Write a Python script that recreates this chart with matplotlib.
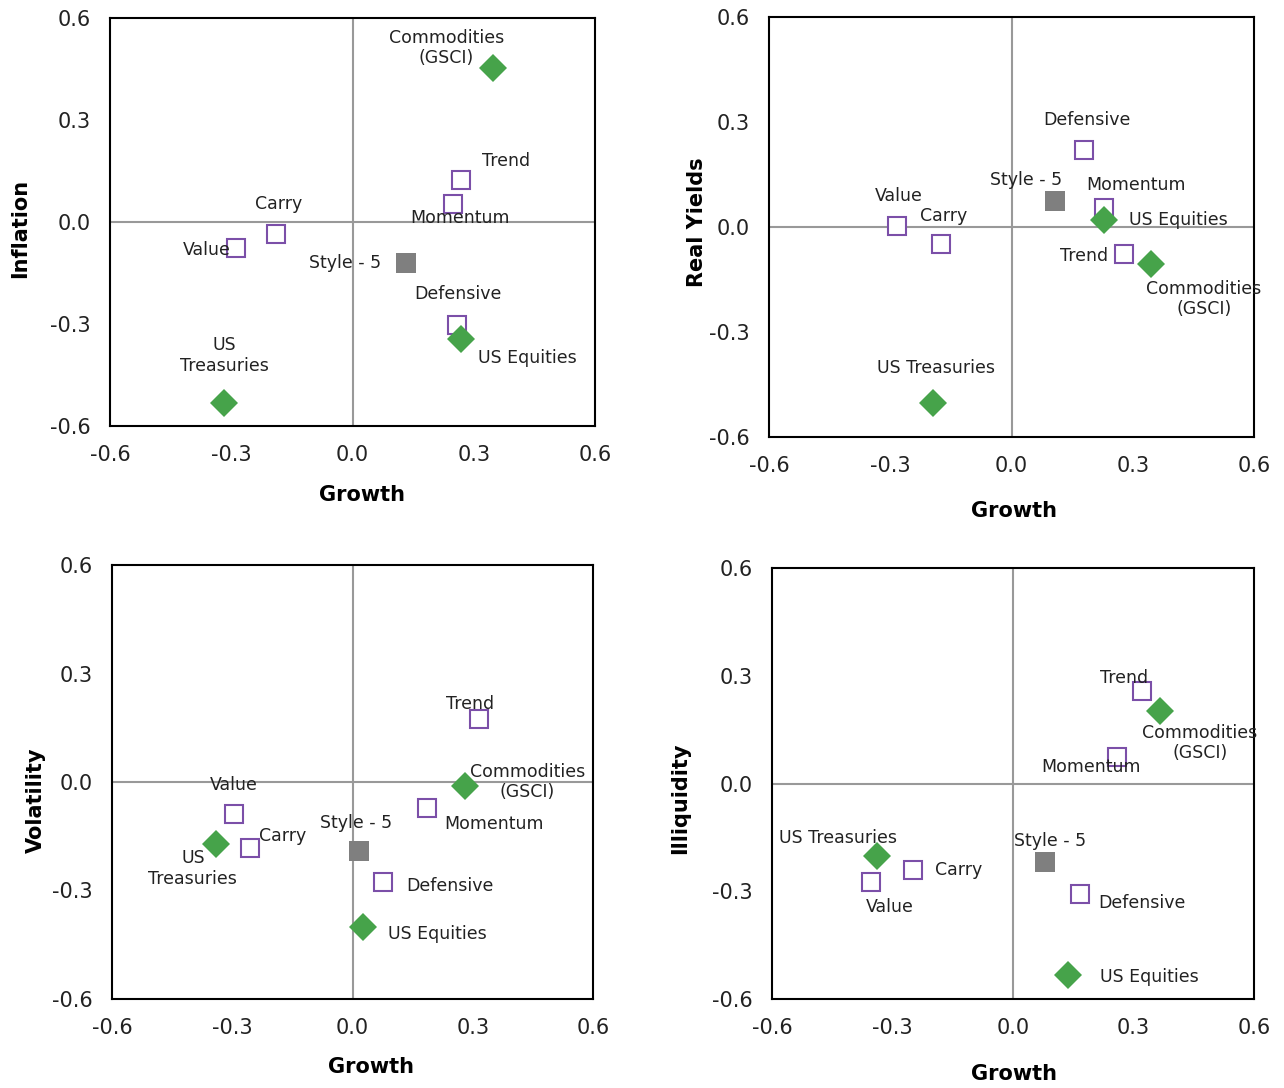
import numpy as np
import matplotlib
matplotlib.use("Agg")
import matplotlib.pyplot as plt

names = ['Value', 'Carry', 'Momentum', 'Defensive', 'Trend', 'Style - 5',
         'US Equities', 'US Treasuries', 'Commodities\n(GSCI)']
kinds = ['style'] * 5 + ['combo'] + ['asset'] * 3

ticks = [-0.6, -0.3, 0.0, 0.3, 0.6]
tick_labels = ['-0.6', '-0.3', '0.0', '0.3', '0.6']

# growth vs inflation
growth_1 = [-0.288, -0.189, 0.249, 0.259, 0.268, 0.132, 0.268, -0.318, 0.348]
inflation = [-0.076, -0.035, 0.053, -0.303, 0.124, -0.121, -0.344, -0.532, 0.453]
# growth vs real yields
growth_2 = [-0.283, -0.175, 0.228, 0.179, 0.278, 0.108, 0.228, -0.194, 0.345]
real_yields = [0.003, -0.049, 0.054, 0.22, -0.077, 0.074, 0.02, -0.503, -0.106]
# growth vs volatility
growth_3 = [-0.296, -0.256, 0.186, 0.076, 0.316, 0.016, 0.026, -0.341, 0.281]
volatility = [-0.088, -0.182, -0.072, -0.276, 0.174, -0.191, -0.401, -0.171, -0.011]
# growth vs illiquidity
growth_4 = [-0.353, -0.249, 0.259, 0.167, 0.321, 0.080, 0.137, -0.339, 0.366]
illiquidity = [-0.274, -0.241, 0.074, -0.308, 0.258, -0.219, -0.533, -0.202, 0.202]

# label offsets in pixels (text centre relative to marker)
off_1 = [(-29, -2), (3, 30), (7, -14), (1, 31), (45, 19), (-61, 0), (67, -19), (0, 47), (-47, 20)]
off_2 = [(2, 30), (3, 28), (32, 23), (3, 30), (-40, -2), (-29, 21), (75, 0), (3, 35), (53, -35)]
off_3 = [(0, 29), (33, 12), (67, -16), (67, -4), (-9, 15), (-3, 28), (74, -7), (-23, -25), (62, 4)]
off_4 = [(19, -25), (46, 0), (-26, -10), (62, -9), (-18, 13), (5, 21), (81, -2), (-39, 18), (40, -32)]

purple = '#7b4fa8'
green = '#46a34a'
grey = '#7f7f7f'
txt = '#222222'

W, H = 1284, 1088
fig = plt.figure(figsize=(W / 100, H / 100), dpi=100)

# (left, top, right, bottom) in pixels, xlabel pos, ylabel pos (axes coords), wrap treasuries label
panels = [
    ((110, 18, 595, 426), growth_1, inflation, off_1, 'Inflation', (0.52, -0.169), (-0.186, 0.485), True),
    ((769, 17, 1254, 437), growth_2, real_yields, off_2, 'Real Yields', (0.505, -0.176), (-0.148, 0.512), False),
    ((112, 565, 593, 999), growth_3, volatility, off_3, 'Volatility', (0.538, -0.157), (-0.158, 0.459), True),
    ((772, 568, 1254, 999), growth_4, illiquidity, off_4, 'Illiquidity', (0.502, -0.174), (-0.191, 0.466), False),
]

for box, xs, ys, offs, ylab, xlpos, ylpos, wrap in panels:
    l, t, r, b = box
    ax = fig.add_axes([l / W, 1 - b / H, (r - l) / W, (b - t) / H])
    ax.set_xlim(-0.6, 0.6)
    ax.set_ylim(-0.6, 0.6)
    ax.axhline(0, color='#999999', lw=1.5, zorder=1)
    ax.axvline(0, color='#999999', lw=1.5, zorder=1)
    for s in ax.spines.values():
        s.set_linewidth(1.5)
        s.set_color('black')
    ax.set_xticks(ticks)
    ax.set_xticklabels(tick_labels)
    ax.set_yticks(ticks)
    ax.set_yticklabels(tick_labels)
    ax.tick_params(length=0, labelsize=15, colors=txt, pad=14)

    for i in range(len(names)):
        if kinds[i] == 'style':
            ax.plot(xs[i], ys[i], 's', ms=13, mfc='white', mec=purple, mew=1.5, zorder=3)
        elif kinds[i] == 'combo':
            ax.plot(xs[i], ys[i], 's', ms=14, mfc=grey, mec=grey, mew=0, zorder=4)
        else:
            ax.plot(xs[i], ys[i], 'D', ms=14.5, mfc=green, mec=green, mew=0, zorder=5)
        label = names[i]
        if wrap and label == 'US Treasuries':
            label = 'US\nTreasuries'
        ax.annotate(label, (xs[i], ys[i]), xytext=offs[i], textcoords='offset pixels',
                    ha='center', va='center', multialignment='center',
                    fontsize=12.5, color=txt, zorder=6)

    ax.set_xlabel('Growth', fontsize=15, fontweight='bold', va='center')
    ax.xaxis.set_label_coords(*xlpos)
    ax.set_ylabel(ylab, fontsize=15, fontweight='bold', va='center')
    ax.yaxis.set_label_coords(*ylpos)

fig.savefig('out.png', dpi=100)
